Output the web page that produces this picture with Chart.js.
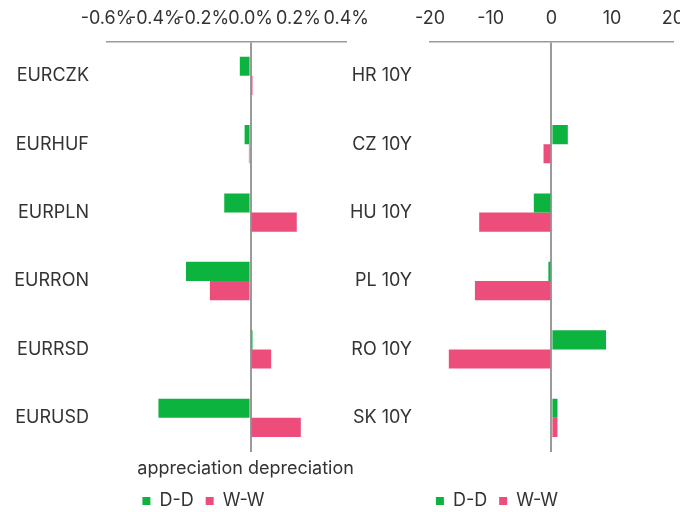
<!DOCTYPE html>
<html>
<head>
<meta charset="utf-8">
<script src="https://cdn.jsdelivr.net/npm/chart.js@4"></script>
<style>
  html, body { margin: 0; padding: 0; overflow: hidden; background: #fff; width: 680px; height: 512px; }
  .box { position: absolute; top: -12px; height: 540px; }
  #fxBox { left: 0; width: 381px; }
  #bondBox { left: 300px; width: 396px; }
</style>
</head>
<body>
<div class="box" id="fxBox"><canvas id="fxChart"></canvas></div>
<div class="box" id="bondBox"><canvas id="bondChart"></canvas></div>
<script>
// left panel: FX moves, in %
const fxPairs = ['EURCZK', 'EURHUF', 'EURPLN', 'EURRON', 'EURRSD', 'EURUSD'];
const fxDayChange = [-0.045, -0.025, -0.11, -0.27, 0.008, -0.385];
const fxWeekChange = [0.008, -0.007, 0.193, -0.17, 0.086, 0.21];
const fxTickValues = [-0.6, -0.4, -0.2, 0.0, 0.2, 0.4];
const fxBottomLabel = 'appreciation depreciation';

// right panel: 10Y yields, in bp
const bondNames = ['HR 10Y', 'CZ 10Y', 'HU 10Y', 'PL 10Y', 'RO 10Y', 'SK 10Y'];
const bondDayChange = [0, 2.7, -2.9, -0.5, 9.0, 1.0];
const bondWeekChange = [0, -1.3, -11.9, -12.6, -16.9, 1.0];
const bondTickValues = [-20, -10, 0, 10, 20];

const seriesNames = ['D-D', 'W-W'];
const GREEN = '#0db33f';
const PINK = '#ec4d7a';
const AXIS = '#9a9a9a';
const TEXT = '#333333';

Chart.defaults.font.family = 'Inter';
Chart.defaults.font.size = 18;
Chart.defaults.color = TEXT;

// nudge the legend sideways so it sits where the reference has it
const legendShift = {
    id: 'legendShift',
    afterLayout(chart, args, options) {
        if (chart.legend && options.dx) {
            chart.legend.left += options.dx;
            chart.legend.right += options.dx;
        }
    }
};

function makeChart(canvasId, labels, dayData, weekData, tickValues, fmt, opts) {
    const ctx = document.getElementById(canvasId).getContext('2d');
    return new Chart(ctx, {
        type: 'bar',
        data: {
            labels: labels,
            datasets: [
                { label: seriesNames[0], data: dayData, backgroundColor: GREEN },
                { label: seriesNames[1], data: weekData, backgroundColor: PINK }
            ]
        },
        plugins: [legendShift],
        options: {
            indexAxis: 'y',
            responsive: true,
            maintainAspectRatio: false,
            animation: false,
            categoryPercentage: 0.56,
            barPercentage: 1.0,
            layout: { padding: { left: 0, right: 0, top: 8, bottom: 8 } },
            plugins: {
                tooltip: { enabled: false },
                legendShift: { dx: opts.legendDx },
                legend: {
                    position: 'bottom',
                    labels: { boxWidth: 8, boxHeight: 8, padding: 12, color: TEXT }
                }
            },
            scales: {
                x: {
                    position: 'top',
                    min: tickValues[0],
                    max: tickValues[tickValues.length - 1],
                    afterBuildTicks: (scale) => {
                        scale.ticks = tickValues.map(v => ({ value: v }));
                    },
                    ticks: {
                        autoSkip: false,
                        maxRotation: 0,
                        padding: 12,
                        callback: (v) => fmt(v)
                    },
                    grid: {
                        drawTicks: false,
                        color: (c) => (c.tick && Math.abs(c.tick.value) < 1e-9) ? AXIS : 'rgba(0,0,0,0)',
                        lineWidth: 2
                    },
                    border: { display: true, color: AXIS, width: 1.5 }
                },
                x2: {
                    position: 'bottom',
                    axis: 'x',
                    min: tickValues[0],
                    max: tickValues[tickValues.length - 1],
                    afterBuildTicks: (scale) => {
                        scale.ticks = opts.bottomLabel ? [{ value: 0 }] : [];
                    },
                    afterFit: (scale) => { scale.height = 28; },
                    ticks: {
                        display: !!opts.bottomLabel,
                        autoSkip: false,
                        maxRotation: 0,
                        padding: 6,
                        labelOffset: -5,
                        callback: () => opts.bottomLabel
                    },
                    grid: { display: false, drawTicks: false },
                    border: { display: false }
                },
                y: {
                    afterFit: (scale) => { scale.width = opts.yWidth; },
                    ticks: { padding: 18 },
                    grid: { display: false, drawTicks: false },
                    border: { display: false }
                }
            }
        }
    });
}

makeChart('fxChart', fxPairs, fxDayChange, fxWeekChange, fxTickValues,
    (v) => v.toFixed(1) + '%', { yWidth: 107, legendDx: 13, bottomLabel: fxBottomLabel });
makeChart('bondChart', bondNames, bondDayChange, bondWeekChange, bondTickValues,
    (v) => String(Math.round(v)), { yWidth: 130, legendDx: -1, bottomLabel: '' });
</script>
</body>
</html>
